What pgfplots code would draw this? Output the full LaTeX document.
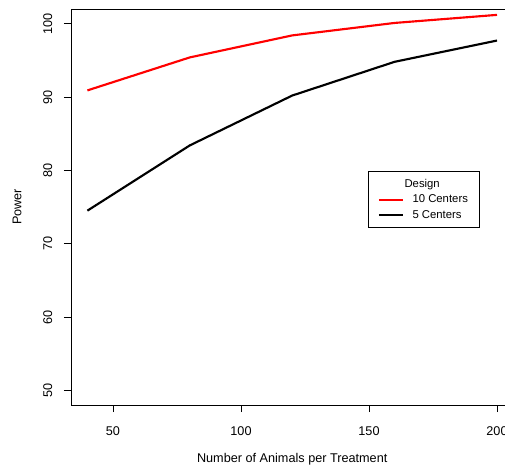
\documentclass[border=0pt]{standalone}
\usepackage{pgfplots}
\pgfplotsset{compat=1.18}
\usepackage{fontspec}
\setmainfont{Liberation Sans}
\begin{document}
\begin{tikzpicture}
\begin{axis}[
  scale only axis,
  width=331.8pt, height=297pt,
  at={(0pt,0pt)}, anchor=south west,
  xmin=33.6, xmax=206.4, ymin=48, ymax=102,
  xtick={50,100,150,200}, ytick={50,60,70,80,90,100},
  tick pos=left, tick align=outside,
  major tick length=5.25pt,
  axis line style={line width=0.7pt},
  every tick/.style={line width=0.7pt, black},
  font=\fontsize{9.5}{11}\selectfont,
  /pgf/number format/assume math mode=true,
  xticklabel style={yshift=-7.5pt},
  yticklabel style={rotate=90, anchor=south, yshift=5.25pt},
  xlabel={Number of Animals per Treatment},
  ylabel={Power},
  every axis x label/.style={at={(axis description cs:0.5,-0.138)}, anchor=center},
  every axis y label/.style={at={(axis description cs:-0.1221,0.5)}, rotate=90, anchor=center},
  legend style={at={(rel axis cs:0.6713,0.5909)}, anchor=north west,
    draw=black, line width=0.6pt, font=\fontsize{8.5}{10}\selectfont,
    row sep=1.25pt, column sep=5pt, inner xsep=7pt, inner ysep=4.1pt,
    nodes={inner sep=1.5pt}},
  legend cell align=left,
  legend image code/.code={\draw[#1, line width=1.6pt] (0pt,0pt) -- (18pt,0pt);},
]
\addlegendimage{empty legend}
\addlegendentry{\hspace*{-6pt}Design}
\addplot[red, line width=1.6pt] coordinates {(40,90.9) (80,95.4) (120,98.4) (160,100.1) (200,101.2)};
\addlegendentry{10 Centers}
\addplot[black, line width=1.6pt] coordinates {(40,74.5) (80,83.4) (120,90.2) (160,94.8) (200,97.7)};
\addlegendentry{5 Centers}
\end{axis}
\pgfresetboundingbox
\path (-53.25pt,-48pt) rectangle (325.5pt,303.75pt);
\end{tikzpicture}
\end{document}
